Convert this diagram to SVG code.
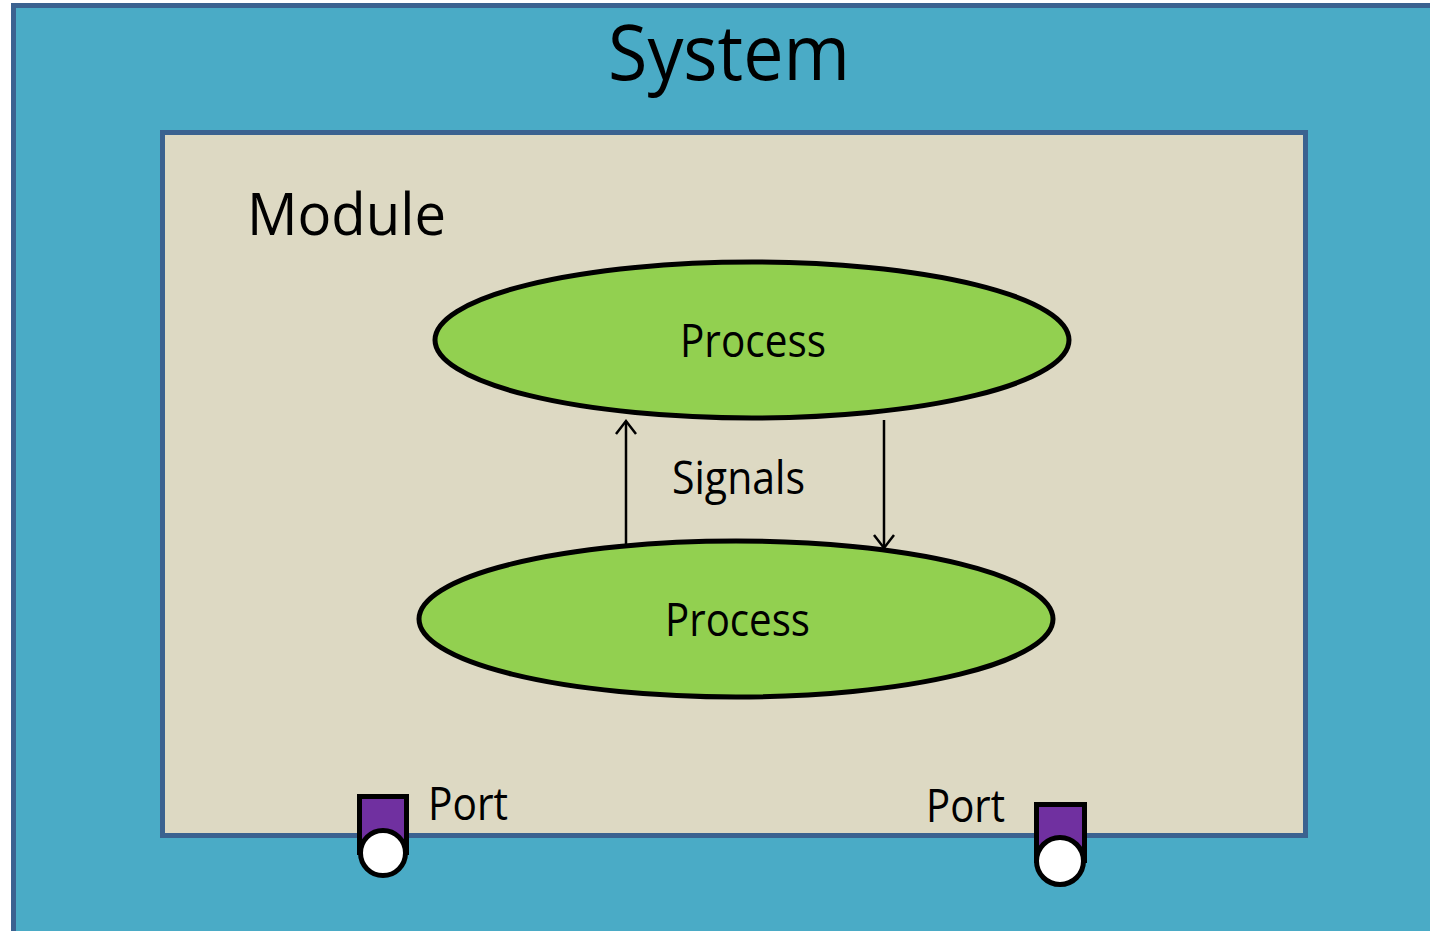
<svg xmlns="http://www.w3.org/2000/svg" width="1430" height="931" viewBox="0 0 1430 931">
<defs>
<style>
.t{font-family:"Open Sans","Noto Sans","Liberation Sans",sans-serif;fill:#000}
.proc{fill:#92d050;stroke:#000;stroke-width:5}
.port{fill:#7030a0;stroke:#000;stroke-width:5}
.hole{fill:#fff;stroke:#000;stroke-width:5}
.sig{stroke:#000;stroke-width:2.5;fill:none}
</style>
<marker id="ah" viewBox="0 0 22 22" refX="19" refY="11" markerWidth="22" markerHeight="22" markerUnits="userSpaceOnUse" orient="auto">
<path d="M6,1 L19,11 L6,21" fill="none" stroke="#000" stroke-width="2.5"/>
</marker>
</defs>
<rect width="1430" height="931" fill="#fff"/>
<g id="system">
<rect x="13.5" y="5.5" width="1430" height="940" fill="#4aabc6" stroke="#3b6290" stroke-width="5"/>
<text class="t" x="729" y="80" font-size="77" text-anchor="middle" textLength="242" lengthAdjust="spacingAndGlyphs">System</text>
</g>
<g id="module">
<rect x="162.5" y="132.5" width="1143" height="703" fill="#ddd9c3" stroke="#3b6290" stroke-width="5"/>
<text class="t" x="247" y="235" font-size="59" textLength="199" lengthAdjust="spacingAndGlyphs">Module</text>
</g>
<g id="process1">
<ellipse class="proc" cx="752" cy="340" rx="317" ry="78"/>
<text class="t" x="680" y="357" font-size="45" textLength="146" lengthAdjust="spacingAndGlyphs">Process</text>
</g>
<g id="process2">
<ellipse class="proc" cx="736" cy="619" rx="317" ry="78"/>
<text class="t" x="665" y="636" font-size="45" textLength="145" lengthAdjust="spacingAndGlyphs">Process</text>
</g>
<g id="connectors">
<line class="sig" x1="626" y1="545" x2="626" y2="421" marker-end="url(#ah)"/>
<line class="sig" x1="884" y1="420" x2="884" y2="548" marker-end="url(#ah)"/>
<text class="t" x="672" y="494" font-size="45" textLength="133" lengthAdjust="spacingAndGlyphs">Signals</text>
</g>
<g id="port1">
<rect class="port" x="359.5" y="796.5" width="47" height="56"/>
<circle class="hole" cx="383" cy="853" r="22.5"/>
<text class="t" x="428" y="820" font-size="45" textLength="80" lengthAdjust="spacingAndGlyphs">Port</text>
</g>
<g id="port2">
<rect class="port" x="1036.5" y="804.5" width="48" height="56"/>
<circle class="hole" cx="1060" cy="861" r="23.5"/>
<text class="t" x="926" y="822" font-size="45" textLength="79" lengthAdjust="spacingAndGlyphs">Port</text>
</g>
</svg>
